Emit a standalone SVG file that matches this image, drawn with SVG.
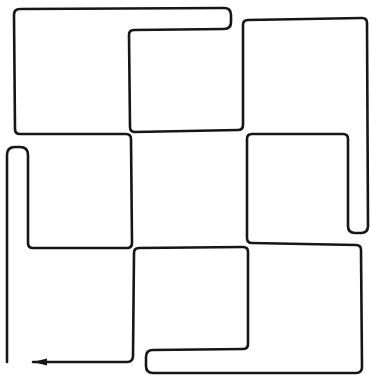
<svg xmlns="http://www.w3.org/2000/svg" width="371" height="375" viewBox="0 0 371 375">
<defs>
<style>
.maze{fill:none;stroke:#161616;stroke-width:2.6;stroke-linejoin:round;stroke-linecap:round}
</style>
<marker id="arrow" markerUnits="userSpaceOnUse" markerWidth="16" markerHeight="10" refX="14" refY="5" orient="auto">
<path d="M0,1.5 L14,5 L0,8.5 Z" fill="#161616"/>
</marker>
</defs>
<rect width="371" height="375" fill="#ffffff"/>
<g id="connectors">
<path class="maze" marker-end="url(#arrow)" d="M7,362 L7,155 Q7,147 15,147 L20,147 Q28,147 28,155 L28,243 Q28,248 33,248 L127,248 Q132,248 132,243 L131,139 Q131,134 126,134 L20,134 Q15,134 15,129 L14,15 Q14,9 20,9 L224,8 Q231,8 231,15 L231,22 Q231,29 224,29 L134,30 Q129,30 129,35 L130,127 Q130,132 135,132 L238,130 Q243,130 243,125 L243,25 Q243,20 248,20 L362,18 Q367,18 367,23 L368,226 Q368,233 361,233 L355,233 Q348,233 348,226 L348,139 Q348,134 343,134 L252,134 Q247,134 247,139 L247,238 Q247,243 252,243 L356,245 Q361,245 361,250 L362,367 Q362,373 356,373 L153,373 Q146,373 146,366 L146,357 Q146,350 153,350 L243,349 Q248,349 248,344 L248,252 Q248,247 243,247 L139,248 Q134,248 134,253 L133,356 Q133,362 127,362 L33,362"/>
</g>
</svg>
